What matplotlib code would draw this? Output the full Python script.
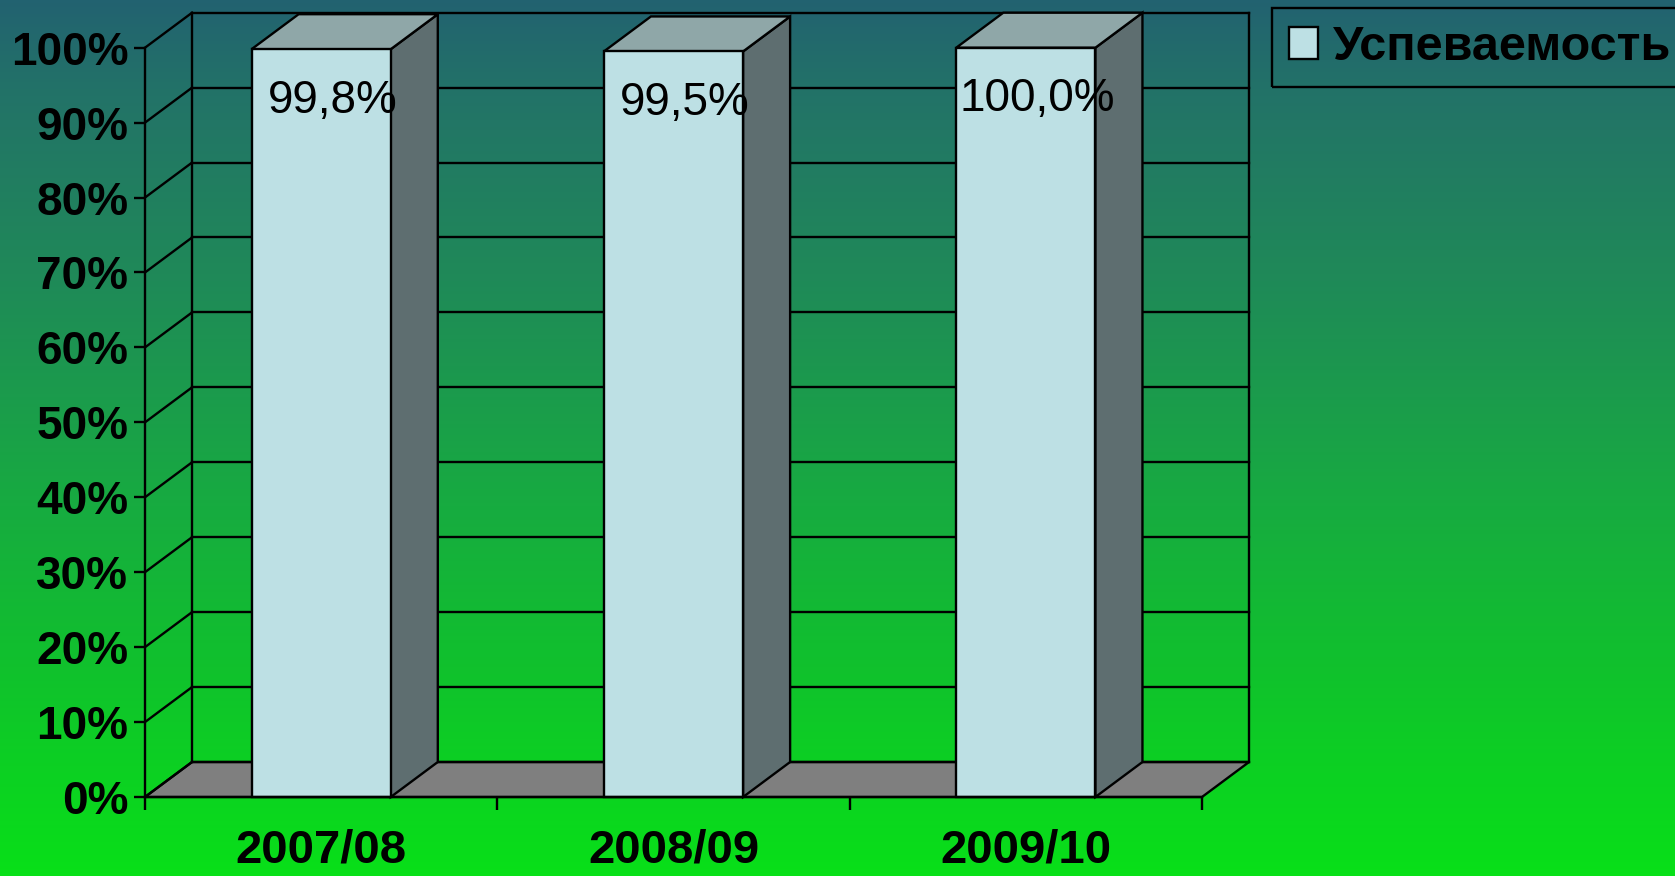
import numpy as np
import matplotlib
matplotlib.use('Agg')
from matplotlib import pyplot as plt
from matplotlib.patches import Polygon, Patch
from matplotlib.colors import LinearSegmentedColormap

plt.rcParams['font.family'] = ['Liberation Sans', 'DejaVu Sans']

years = ['2007/08', '2008/09', '2009/10']
values = [99.8, 99.5, 100.0]
value_labels = ['99,8%', '99,5%', '100,0%']
y_ticks = list(range(0, 101, 10))
series_name = 'Успеваемость'

W, H = 1675, 876
fig = plt.figure(figsize=(W / 100, H / 100), dpi=100)

# background gradient, teal at top to bright green at bottom
bg = fig.add_axes([0, 0, 1, 1], zorder=-10)
cmap = LinearSegmentedColormap.from_list('bg', [
    (0.00, '#226270'), (0.10, '#237268'), (0.32, '#1F8A58'),
    (0.55, '#18A843'), (0.77, '#10C22C'), (1.00, '#08E018')])
bg.imshow(np.linspace(0, 1, 256).reshape(-1, 1), aspect='auto', cmap=cmap,
          extent=[0, 1, 0, 1])
bg.axis('off')

ax = fig.add_axes([145 / W, (H - 797) / H, 1057 / W, (797 - 47.7) / H])
ax.set_facecolor('none')
ax.set_xlim(-0.5, 2.5)
ax.set_ylim(0, 100)

dx, dy = 0.1335, 4.67   # depth offset (categories, percent)
bw = 0.395
front_c, side_c, top_c = '#BDE0E4', '#5E6E70', '#8FA7A8'
lw = 1.7

# floor
ax.add_patch(Polygon([(-0.5, 0), (2.5, 0), (2.5 + dx, dy), (-0.5 + dx, dy)],
                     closed=True, facecolor='#7F7F7F', edgecolor='black',
                     lw=lw, clip_on=False, zorder=1))
# back wall grid + side wall
for t in y_ticks:
    ax.plot([-0.5 + dx, 2.5 + dx], [t + dy, t + dy], color='black', lw=lw,
            clip_on=False, zorder=1)
    ax.plot([-0.5, -0.5 + dx], [t, t + dy], color='black', lw=lw,
            clip_on=False, zorder=1)
for xe in (-0.5 + dx, 2.5 + dx):
    ax.plot([xe, xe], [dy, 100 + dy], color='black', lw=lw, clip_on=False, zorder=1)

# bars
for i, v in enumerate(values):
    l, r = i - bw / 2, i + bw / 2
    ax.add_patch(Polygon([(r, 0), (r + dx, dy), (r + dx, v + dy), (r, v)],
                         facecolor=side_c, edgecolor='black', lw=lw,
                         clip_on=False, zorder=3))
    ax.add_patch(Polygon([(l, v), (r, v), (r + dx, v + dy), (l + dx, v + dy)],
                         facecolor=top_c, edgecolor='black', lw=lw,
                         clip_on=False, zorder=3))
    ax.bar(i, v, width=bw, color=front_c, edgecolor='black', lw=lw,
           zorder=4, clip_on=False)
    ax.annotate(value_labels[i], (i, v), xytext=(8, -37), textcoords='offset points',
                ha='center', va='center', fontsize=33, color='black', zorder=6)

for s in ('top', 'right'):
    ax.spines[s].set_visible(False)
for s in ('left', 'bottom'):
    ax.spines[s].set_linewidth(lw)
    ax.spines[s].set_zorder(5)

ax.set_yticks(y_ticks)
ax.set_yticklabels(['%d%%' % t for t in y_ticks])
ax.tick_params(axis='y', length=8, width=lw, pad=4, labelsize=33)
for lab in ax.get_yticklabels():
    lab.set_fontweight('bold')

ax.set_xticks([-0.5, 0.5, 1.5, 2.5])
ax.set_xticklabels([])
ax.set_xticks(range(len(years)), minor=True)
ax.set_xticklabels(years, minor=True, fontsize=34, fontweight='bold')
ax.tick_params(axis='x', which='major', length=9, width=lw)
ax.tick_params(axis='x', which='minor', length=0, pad=23)

leg = ax.legend(handles=[Patch(facecolor=front_c, edgecolor='black', lw=lw,
                               label=series_name)],
                loc='upper left', bbox_to_anchor=(1272 / W, 1 - 8 / H),
                bbox_transform=fig.transFigure, borderaxespad=0,
                fancybox=False, frameon=True, edgecolor='black',
                facecolor='none', handlelength=0.6, handleheight=0.65,
                handletextpad=0.3, borderpad=0.35,
                prop={'size': 35, 'weight': 'bold'})
leg.get_frame().set_linewidth(lw)
leg.get_frame().set_alpha(None)

fig.savefig('out.png', dpi=100)
